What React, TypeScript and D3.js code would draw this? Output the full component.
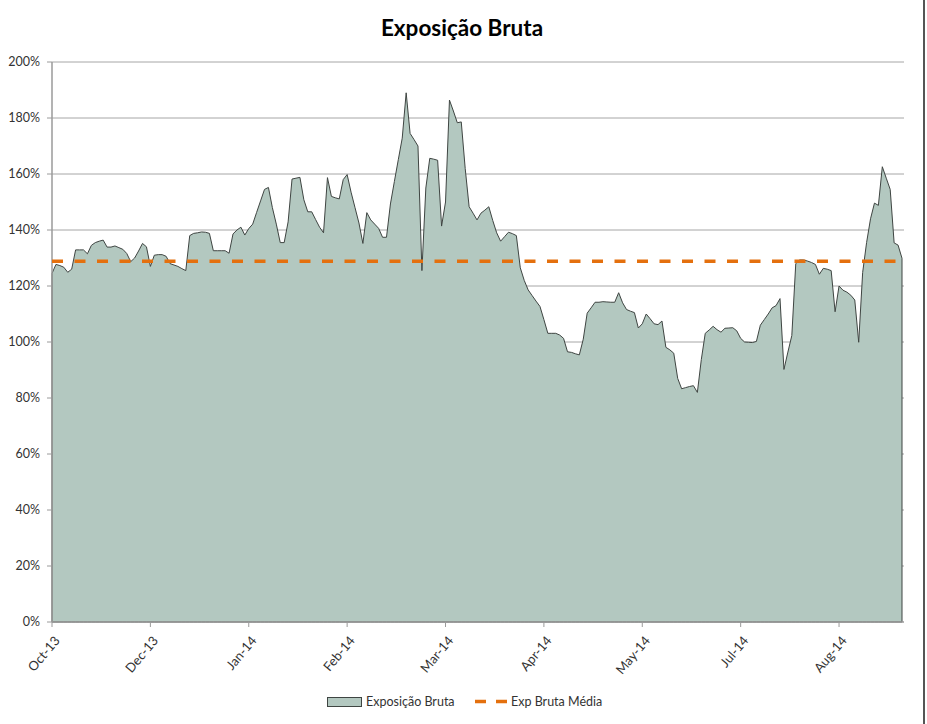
import React from "react";
import * as d3 from "d3";

const TITLE = "Exposição Bruta";
const SERIES_NAME = "Exposição Bruta";
const MEAN_NAME = "Exp Bruta Média";
const X_LABELS = ["Oct-13", "Dec-13", "Jan-14", "Feb-14", "Mar-14", "Apr-14", "May-14", "Jul-14", "Aug-14"];
const LABEL_STEP = 25;
const Y_TICKS = [0, 20, 40, 60, 80, 100, 120, 140, 160, 180, 200];
const MEAN_VALUE = 128.8;
const EXPOSURE = [
  124.5, 127.7, 127.3, 126.7, 124.9, 126, 132.9, 132.9, 132.9, 131.5,
  134.5, 135.5, 136, 136.4, 133.9, 133.9, 134.3, 133.7, 133.1, 131.6,
  128.7, 130, 132.5, 135.2, 134, 127, 131, 131.2, 131.2, 130.6,
  128, 127.5, 127, 126.2, 125.5, 138, 138.8, 139, 139.3, 139.2,
  138.8, 132.6, 132.6, 132.6, 132.6, 131.7, 138.6, 140, 141, 138.2,
  140.5, 142.1, 146.3, 150.4, 154.5, 155.2, 148, 142.1, 135.5, 135.5,
  142.9, 158.2, 158.5, 158.8, 150.8, 146.5, 146.5, 143.7, 141, 139,
  158.7, 152, 151.5, 151.1, 158, 159.8, 153.5, 148, 142.5, 135.2,
  146.2, 143.6, 142.1, 140.6, 137.4, 137.4, 149.3, 157.3, 165.1, 172.8,
  189, 174.5, 172.3, 170, 125.5, 155, 165.6, 165.3, 164.9, 141.4,
  150, 186.4, 182.5, 178.3, 178.6, 162, 148.3, 146, 143.6, 146,
  147.1, 148.3, 143.4, 139, 136, 137.6, 139.2, 138.7, 138, 126.5,
  122, 118.6, 116.6, 114.6, 112.7, 108, 103.1, 103.1, 103.1, 102.5,
  101.3, 96.5, 96.3, 95.8, 95.4, 101, 110.3, 112.2, 114.2, 114.2,
  114.4, 114.3, 114.2, 114.2, 117.6, 114, 111.6, 111, 110.5, 105,
  106.5, 110, 108.3, 106.5, 106.2, 107.5, 98.1, 97.2, 96, 87,
  83.3, 83.7, 84.1, 84.4, 82, 93.7, 103.1, 104.3, 105.6, 104.4,
  103.5, 104.9, 105, 105.1, 104, 101.3, 100, 99.9, 99.8, 100.2,
  106, 108, 110, 112.2, 113, 115.5, 90.2, 96.4, 102.3, 128,
  129.3, 129.3, 128.9, 128.4, 127.7, 124.2, 126.3, 126, 125.5, 110.8,
  120, 118.5, 117.8, 116.7, 115, 99.9, 124.8, 135.5, 144, 149.6,
  148.8, 162.6, 158.5, 154.5, 135.4, 134.6, 129.9,
];

const W = 927;
const H = 724;
const LEFT = 52;
const RIGHT = 902;
const TOP = 62;
const BOTTOM = 622;
const FONT = "Lato, 'Open Sans', sans-serif";
const AREA_FILL = "#b3c8c0";
const LINE_COLOR = "#3f4542";
const ORANGE = "#e4700e";
const GRID = "#a6a6a6";

export default function App() {
  const n = EXPOSURE.length;
  const x = d3.scaleLinear().domain([0, n - 1]).range([LEFT, RIGHT]);
  const y = d3.scaleLinear().domain([0, 200]).range([BOTTOM, TOP]);

  const area = d3
    .area<number>()
    .x((_, i) => x(i))
    .y0(y(0))
    .y1((d) => y(d));

  const tickIdx = X_LABELS.map((_, k) => k * LABEL_STEP);

  return (
    <svg width={W} height={H} style={{ position: "absolute", left: 0, top: 0, background: "#fff" }} fontFamily={FONT}>
      <rect x={0} y={0} width={W} height={H} fill="#fff" />
      <text x={462} y={36} textAnchor="middle" fontSize={22.5} fontWeight="bold" fill="#000">
        {TITLE}
      </text>

      {Y_TICKS.filter((t) => t > 0).map((t) => (
        <line key={"g" + t} x1={LEFT} x2={RIGHT + 2} y1={y(t)} y2={y(t)} stroke={GRID} strokeWidth={1} />
      ))}

      <path d={area(EXPOSURE) || ""} fill={AREA_FILL} stroke={LINE_COLOR} strokeWidth={1} strokeLinejoin="round" />

      <line x1={LEFT} x2={LEFT} y1={TOP} y2={BOTTOM} stroke="#9a9a9a" strokeWidth={1.5} />
      <line x1={LEFT} x2={RIGHT + 2} y1={BOTTOM} y2={BOTTOM} stroke="#9a9a9a" strokeWidth={1.5} />
      {Y_TICKS.map((t) => (
        <g key={"y" + t}>
          <line x1={LEFT - 5} x2={LEFT} y1={y(t)} y2={y(t)} stroke="#9a9a9a" strokeWidth={1} />
          <text x={40} y={y(t)} dy="0.35em" textAnchor="end" fontSize={12.5} fill="#333">
            {t + "%"}
          </text>
        </g>
      ))}
      {tickIdx.map((ti, k) => (
        <g key={"x" + k}>
          <line x1={x(ti)} x2={x(ti)} y1={BOTTOM} y2={BOTTOM + 5} stroke="#9a9a9a" strokeWidth={1} />
          <text
            transform={`translate(${x(ti) + 5},${BOTTOM + 16}) rotate(-50)`}
            textAnchor="end"
            dy="0.35em"
            fontSize={13}
            fill="#333"
          >
            {X_LABELS[k]}
          </text>
        </g>
      ))}

      <line
        x1={LEFT}
        x2={RIGHT}
        y1={y(MEAN_VALUE)}
        y2={y(MEAN_VALUE)}
        stroke={ORANGE}
        strokeWidth={3.5}
        strokeDasharray="11,11.5"
      />

      <rect x={327.5} y={697.5} width={34} height={9} fill={AREA_FILL} stroke={LINE_COLOR} strokeWidth={1} />
      <text x={366} y={706} fontSize={12.5} fill="#333">
        {SERIES_NAME}
      </text>
      <line x1={475} x2={508} y1={701.5} y2={701.5} stroke={ORANGE} strokeWidth={3.5} strokeDasharray="11,10" />
      <text x={511} y={706} fontSize={12.5} fill="#333">
        {MEAN_NAME}
      </text>

      <line x1={924} x2={924} y1={0} y2={H} stroke="#555" strokeWidth={2} />
    </svg>
  );
}
